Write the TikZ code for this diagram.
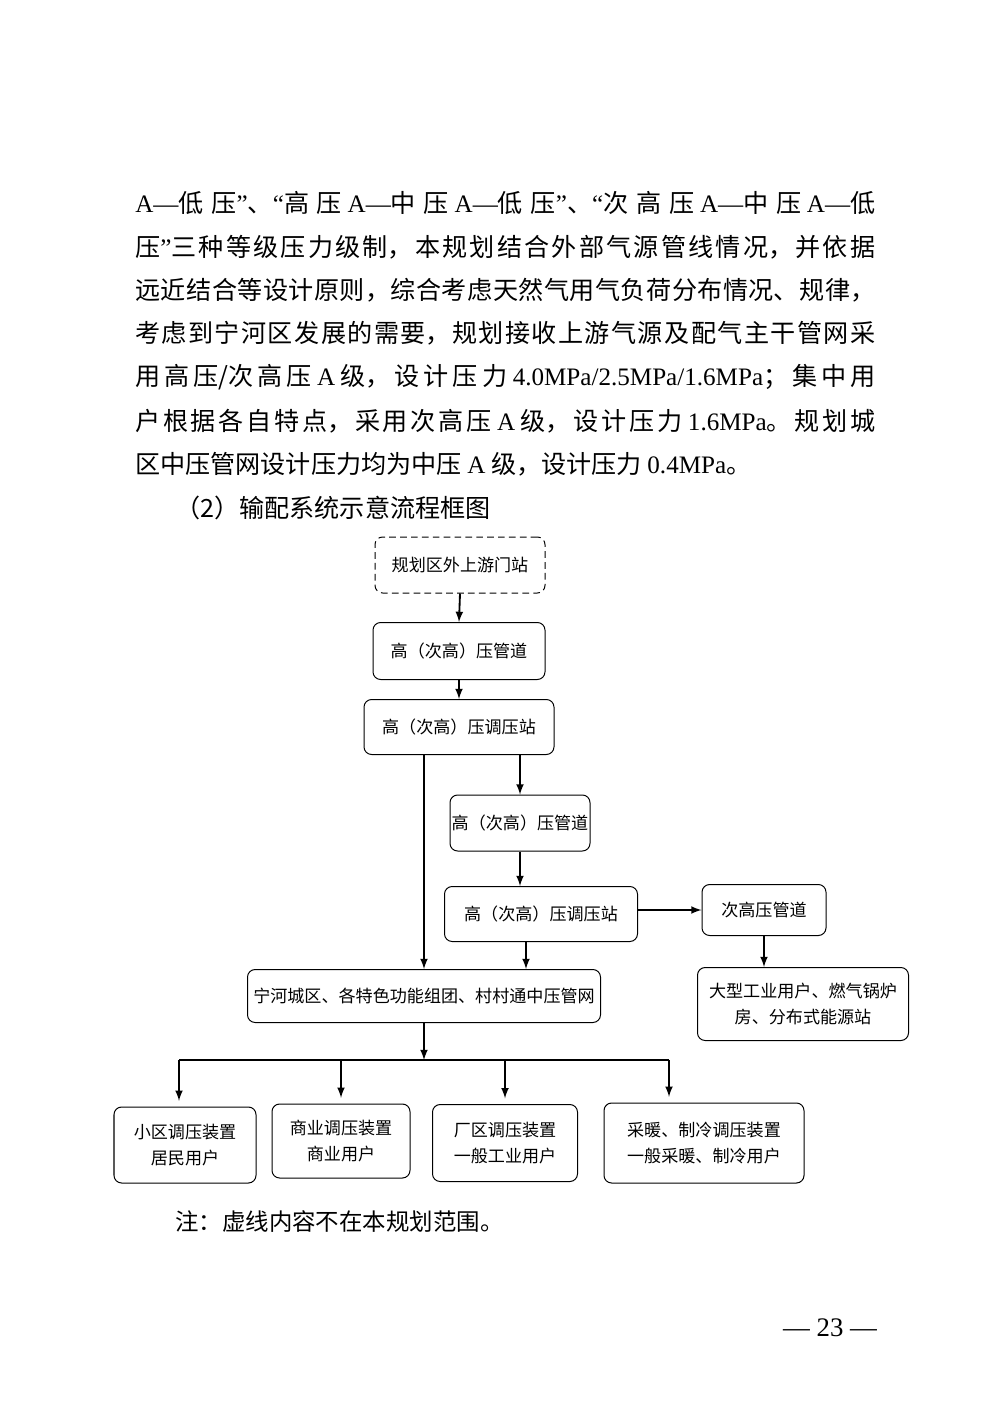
\documentclass[tikz,border=0pt]{standalone}
\usepackage{fontspec}
\setmainfont{Noto Sans CJK SC}
\newfontfamily\tnr{Liberation Serif}
\XeTeXlinebreaklocale "zh"
\XeTeXlinebreakskip=0pt plus 1fil

\newlength\pxu
\setlength\pxu{0.021cm}
\newcommand\paraFont{\fontsize{15pt}{18pt}\selectfont}
\newcommand\noteFont{\fontsize{14pt}{17pt}\selectfont}
\newcommand\chartFont{\fontsize{10.2pt}{16pt}\selectfont}
\newcommand\jline[1]{\parbox{740\pxu}{\tolerance=10000\hbadness=10000\parindent=0pt\parfillskip=0pt #1}}
\newcommand\oq{{\tnr “}}
\newcommand\cq{{\tnr ”}}
\newcommand\Ad{\mbox{\tnr A—}}

\tikzset{
    box/.style={draw, rounded corners=1.6mm, line width=0.6pt, inner sep=0pt,
        align=center, font=\chartFont},
    dashbox/.style={box, dash pattern=on 4pt off 2.5pt},
    link/.style={draw, -latex, line width=1.1pt},
    para/.style={anchor=west, inner sep=0pt, font=\paraFont}
}

\begin{document}
\begin{tikzpicture}[x=\pxu, y=-\pxu]
    \useasboundingbox[fill=white] (0,0) rectangle (1000,1414);

    % body text
    \node[para] (p1) at (135,203) {\jline{\Ad{}低压\cq{}、\oq{}高压 \Ad{}中压 \Ad{}低压\cq{}、\oq{}次高压 \Ad{}中压 \Ad{}低}};
    \node[para] (p2) at (135,247) {\jline{压\cq{}三种等级压力级制，本规划结合外部气源管线情况，并依据}};
    \node[para] (p3) at (135,290) {\jline{远近结合等设计原则，综合考虑天然气用气负荷分布情况、规律，}};
    \node[para] (p4) at (135,333) {\jline{考虑到宁河区发展的需要，规划接收上游气源及配气主干管网采}};
    \node[para] (p5) at (135,377) {\jline{用高压\mbox{/}次高压 {\tnr A} 级，设计压力 \mbox{\tnr 4.0MPa/2.5MPa/1.6MPa}；集中用}};
    \node[para] (p6) at (135,421) {\jline{户根据各自特点，采用次高压 {\tnr A} 级，设计压力 {\tnr 1.6MPa}。规划城}};
    \node[para] (p7) at (135,464) {区中压管网设计压力均为中压 {\tnr A} 级，设计压力 {\tnr 0.4MPa}。};
    \node[para] (title) at (175,508) {（2）输配系统示意流程框图};

    % flow chart
    \node[dashbox, minimum width=170\pxu, minimum height=56\pxu] (b1) at (460,565) {规划区外上游门站};
    \node[box, minimum width=172\pxu, minimum height=57\pxu] (b2) at (459,651) {高（次高）压管道};
    \node[box, minimum width=190\pxu, minimum height=55\pxu] (b3) at (459,727) {高（次高）压调压站};
    \node[box, minimum width=140\pxu, minimum height=56\pxu] (b4) at (520,823) {高（次高）压管道};
    \node[box, minimum width=193\pxu, minimum height=55\pxu] (b5) at (541,914) {高（次高）压调压站};
    \node[box, minimum width=124\pxu, minimum height=51\pxu] (b6) at (764,910) {次高压管道};
    \node[box, minimum width=211\pxu, minimum height=73\pxu] (b7) at (803,1004) {大型工业用户、燃气锅炉\\房、分布式能源站};
    \node[box, minimum width=353\pxu, minimum height=53\pxu] (b8) at (424,996) {宁河城区、各特色功能组团、村村通中压管网};

    \node[box, minimum width=142\pxu, minimum height=76\pxu] (c1) at (185,1145) {小区调压装置\\居民用户};
    \node[box, minimum width=138\pxu, minimum height=74\pxu] (c2) at (341,1141) {商业调压装置\\商业用户};
    \node[box, minimum width=145\pxu, minimum height=77\pxu] (c3) at (505,1143) {厂区调压装置\\一般工业用户};
    \node[box, minimum width=200\pxu, minimum height=80\pxu] (c4) at (704,1143) {采暖、制冷调压装置\\一般采暖、制冷用户};

    \coordinate (bus) at (422,1060);
    \coordinate (busL) at (179,1060);
    \coordinate (busR) at (669,1060);
    \path ([xshift=-15\pxu]b5.south) coordinate (b5out);

    \draw[link] (b1.south) -- (b2.north);
    \draw[link] (b2.south) -- (b3.north);
    \draw[link] (b3.south -| b8.north) -- (b8.north);
    \draw[link] (b3.south -| b4.north) -- (b4.north);
    \draw[link] (b4.south) -- (b4.south |- b5.north);
    \draw[link] (b5out) -- (b5out |- b8.north);
    \draw[link] (b5.east |- b6.west) -- (b6.west);
    \draw[link] (b6.south) -- (b6.south |- b7.north);

    \draw[link] (b8.south) -- (b8.south |- bus);
    \draw[line width=1.1pt] (busL) -- (busR);
    \draw[link, shorten >=1.2mm] (busL) -- (busL |- c1.north);
    \draw[link, shorten >=1.2mm] (c2.north |- bus) -- (c2.north);
    \draw[link, shorten >=1.2mm] (c3.north |- bus) -- (c3.north);
    \draw[link, shorten >=1.2mm] (busR) -- (busR |- c4.north);

    % note and page number
    \node[anchor=west, inner sep=0pt, font=\noteFont] (note) at (175,1222) {注：虚线内容不在本规划范围。};
    \node[inner sep=0pt, font=\tnr\fontsize{16pt}{18pt}\selectfont] (page) at (830,1328) {— 23 —};
\end{tikzpicture}
\end{document}
